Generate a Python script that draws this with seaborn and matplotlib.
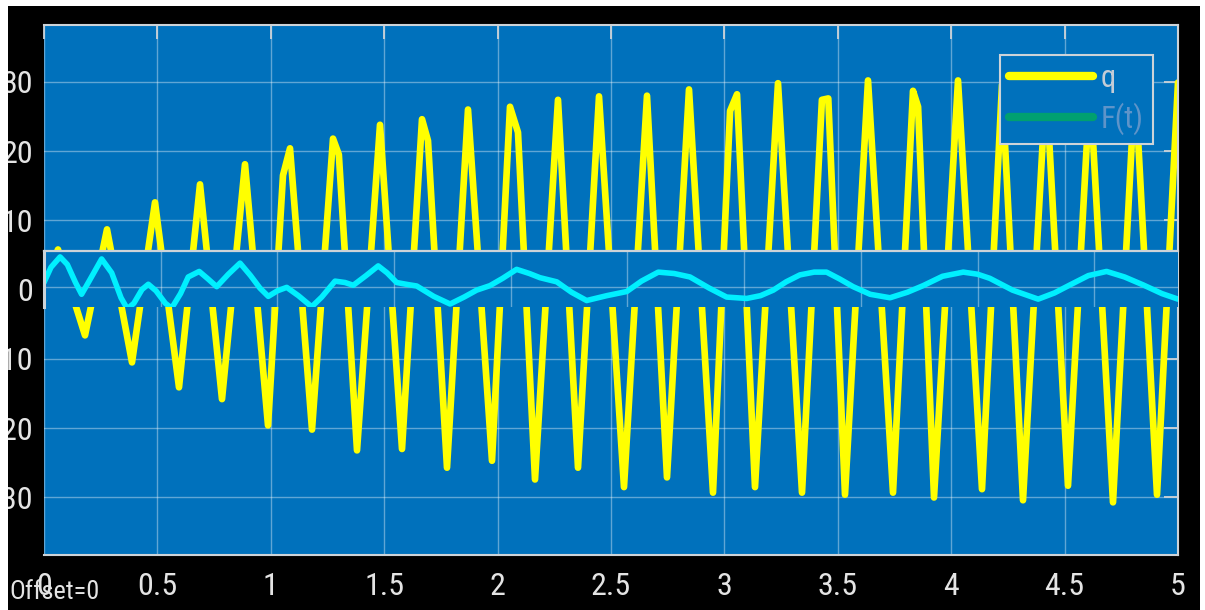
import numpy as np
import pandas as pd
import matplotlib
matplotlib.use("Agg")
import matplotlib.pyplot as plt
import seaborn as sns
from matplotlib.lines import Line2D
from matplotlib.patches import Rectangle
from matplotlib import font_manager as fm

# ---------------------------------------------------------------- data
# q: displacement response, turning points of the trace (time in s)
q_time = [0.000, 0.0617, 0.1808, 0.2778, 0.3880, 0.4894, 0.5952, 0.6878,
          0.7848, 0.8862, 0.9877, 1.0538, 1.0847, 1.1817, 1.2743, 1.3000,
          1.3801, 1.4815, 1.5785, 1.6667, 1.6931, 1.7769, 1.8695, 1.9753,
          2.0547, 2.0899, 2.1649, 2.2663, 2.3545, 2.4471, 2.5573, 2.6587,
          2.7469, 2.8439, 2.9497, 3.0250, 3.0556, 3.1349, 3.2363, 3.3422,
          3.4300, 3.4580, 3.5317, 3.6332, 3.7434, 3.8316, 3.8540, 3.9242,
          4.0300, 4.1358, 4.2240, 4.3166, 4.4180, 4.5150, 4.6120, 4.7134,
          4.8104, 4.9074, 5.0000]
q_value = [0.0, 5.8, -6.6, 8.7, -10.5, 12.6, -14.1, 15.2,
           -15.8, 18.1, -19.6, 16.5, 20.4, -20.2, 21.8, 19.5,
           -23.2, 23.8, -23.0, 24.6, 21.5, -25.7, 26.0, -24.7,
           26.4, 22.7, -27.4, 27.4, -25.7, 27.9, -28.5, 28.0,
           -27.1, 28.9, -29.3, 25.8, 28.2, -28.5, 29.8, -29.3,
           27.4, 27.6, -29.6, 30.2, -29.3, 28.7, 26.4, -30.0,
           30.2, -28.8, 29.6, -30.4, 30.0, -28.3, 29.4, -30.7,
           30.1, -29.6, 29.9]

# F(t): excitation force (time in s, on its own scope strip)
f_time = [0.000, 0.030, 0.069, 0.100, 0.135, 0.161, 0.195, 0.247, 0.290,
          0.330, 0.357, 0.385, 0.420, 0.447, 0.480, 0.520, 0.547, 0.585,
          0.618, 0.665, 0.700, 0.740, 0.790, 0.840, 0.885, 0.925, 0.961,
          1.000, 1.040, 1.090, 1.147, 1.190, 1.247, 1.290, 1.325, 1.380,
          1.432, 1.470, 1.511, 1.560, 1.597, 1.670, 1.740, 1.800, 1.854,
          1.911, 1.965, 2.025, 2.080, 2.125, 2.197, 2.260, 2.325, 2.411,
          2.497, 2.560, 2.632, 2.700, 2.768, 2.850, 2.925, 3.011, 3.070,
          3.125, 3.180, 3.239, 3.300, 3.353, 3.410, 3.467, 3.540, 3.625,
          3.700, 3.767, 3.850, 3.939, 4.000, 4.053, 4.150, 4.260, 4.330,
          4.396, 4.475, 4.553, 4.630, 4.710, 4.790, 4.859]
f_value = [0.6, 2.8, 4.3, 3.2, 0.6, -1.1, 0.9, 4.0, 2.0,
           -1.6, -3.2, -2.4, -0.4, 0.35, -0.6, -2.4, -3.1, -1.0,
           1.4, 2.2, 1.2, 0.0, 1.8, 3.4, 1.6, -0.2, -1.4,
           -0.6, -0.1, -1.3, -2.9, -1.5, 0.8, 0.6, 0.2, 1.6,
           3.0, 2.0, 0.6, 0.3, 0.1, -1.4, -2.5, -1.5, -0.5,
           0.15, 1.2, 2.5, 1.9, 1.3, 0.7, -0.8, -2.0, -1.3,
           -0.7, 0.8, 2.1, 1.9, 1.4, -0.2, -1.5, -1.7, -1.3,
           -0.5, 0.7, 1.7, 2.1, 2.1, 1.1, 0.0, -1.1, -1.6,
           -0.8, 0.15, 1.5, 2.1, 1.8, 1.2, -0.5, -1.8, -0.9,
           0.25, 1.6, 2.2, 1.4, 0.25, -1.0, -1.8]

x_ticks = [0, 0.5, 1, 1.5, 2, 2.5, 3, 3.5, 4, 4.5, 5]
x_tick_labels = ["0", "0.5", "1", "1.5", "2", "2.5", "3", "3.5", "4", "4.5", "5"]
y_ticks = [-30, -20, -10, 0, 10, 20, 30]
y_tick_labels = ["\u221230", "\u221220", "\u221210", "0", "10", "20", "30"]
series_names = ["q", "F(t)"]

# ---------------------------------------------------------------- style
SCOPE_BG = "#0071BC"
YELLOW = "#FFFF00"
CYAN = "#00F0FF"
LEGEND_GREEN = "#00A070"
FRAME = "#CDD3D8"
TEXT = "#E4E4E4"

sns.set_style("dark")


def pick_font():
    names = {f.name for f in fm.fontManager.ttflist}
    for n in ["Liberation Sans Narrow", "Arial Narrow", "Roboto Condensed",
              "Open Sans Condensed"]:
        if n in names:
            return n, "normal", 23
    for f in fm.fontManager.ttflist:
        if f.name == "DejaVu Sans" and str(f.stretch) in ("condensed", "semi-condensed"):
            return "DejaVu Sans", "condensed", 22
    return "Liberation Sans", "normal", 20


FAMILY, STRETCH, FS = pick_font()
plt.rcParams["font.family"] = [FAMILY, "DejaVu Sans"]
plt.rcParams["font.stretch"] = STRETCH

W, H = 1205, 610
fig = plt.figure(figsize=(W / 100, H / 100), dpi=100, facecolor="white")

# black scope window behind everything
fig.patches.append(Rectangle((8 / W, 0), 1192 / W, 604 / H,
                             transform=fig.transFigure, facecolor="black",
                             edgecolor="none", zorder=-10))

ax = fig.add_axes([44 / W, 55 / H, 1134 / W, 530 / H])
ax.set_facecolor(SCOPE_BG)

df_q = pd.DataFrame({"t": q_time, "q": q_value})
sns.lineplot(data=df_q, x="t", y="q", ax=ax, color=YELLOW, linewidth=4.8,
             sort=False, estimator=None, solid_joinstyle="round",
             solid_capstyle="round", zorder=2)

ax.set_xlim(0, 5)
ax.set_ylim(-38.3, 38.2)
ax.set_xticks(x_ticks)
ax.set_xticklabels(x_tick_labels)
ax.set_yticks(y_ticks)
ax.set_yticklabels(y_tick_labels)
ax.set_xlabel("")
ax.set_ylabel("")
ax.set_axisbelow(True)
ax.grid(True, color="white", alpha=0.38, linewidth=1.0)
ax.tick_params(axis="both", direction="in", length=10, width=1.3,
               color=FRAME, labelcolor=TEXT, labelsize=FS,
               top=True, right=True)
ax.tick_params(axis="x", pad=12)
ax.tick_params(axis="y", pad=8)
for side in ("top", "bottom", "right"):
    ax.spines[side].set_color(FRAME)
    ax.spines[side].set_linewidth(1.5)
ax.spines["left"].set_visible(False)

# force strip laid over the middle of the scope
ins = ax.inset_axes([0.0, 0.4685, 1.0, 0.1051])
ins.set_facecolor(SCOPE_BG)
df_f = pd.DataFrame({"t": f_time, "F": f_value})
sns.lineplot(data=df_f, x="t", y="F", ax=ins, color=CYAN, linewidth=4.0,
             sort=False, estimator=None, solid_joinstyle="round",
             solid_capstyle="round")
ins.set_xlim(0, 4.859)
ins.set_ylim(-2.89, 5.15)
ins.set_xlabel("")
ins.set_ylabel("")
ins.set_xticks(np.arange(0, 5, 0.5))
ins.set_yticks([0])
ins.set_axisbelow(True)
ins.grid(True, color="white", alpha=0.38, linewidth=1.0)
ins.tick_params(axis="x", length=0, labelbottom=False)
ins.tick_params(axis="y", direction="in", length=9, width=1.3, color=FRAME,
                labelleft=False)
ins.spines["top"].set_color(FRAME)
ins.spines["top"].set_linewidth(1.6)
ins.spines["left"].set_color(FRAME)
ins.spines["left"].set_linewidth(2.2)
ins.spines["bottom"].set_visible(False)
ins.spines["right"].set_visible(False)

# legend
handles = [Line2D([], [], color=YELLOW, linewidth=6),
           Line2D([], [], color=LEGEND_GREEN, linewidth=6)]
leg = ax.legend(handles, series_names, loc="upper left",
                bbox_to_anchor=(1000 / W, 1 - 55 / H),
                bbox_transform=fig.transFigure, borderaxespad=0,
                fontsize=FS - 1, handlelength=2.75, handletextpad=0.25,
                borderpad=0.3, labelspacing=0.3, frameon=True,
                fancybox=False, framealpha=1.0, facecolor=SCOPE_BG,
                edgecolor=FRAME)
leg.get_frame().set_linewidth(1.5)
leg.set_zorder(10)
leg.get_texts()[0].set_color("#C4CCD6")
leg.get_texts()[1].set_color("#5E94C9")

fig.text(9 / W, 1 - 592 / H, "Offset=0", color=TEXT, fontsize=FS - 4,
         ha="left", va="center")

# white paper strip at the left edge
fig.patches.append(Rectangle((0, 0), 8 / W, 1, transform=fig.transFigure,
                             facecolor="white", edgecolor="none", zorder=20))

fig.savefig("out.png", dpi=100, facecolor="white")
